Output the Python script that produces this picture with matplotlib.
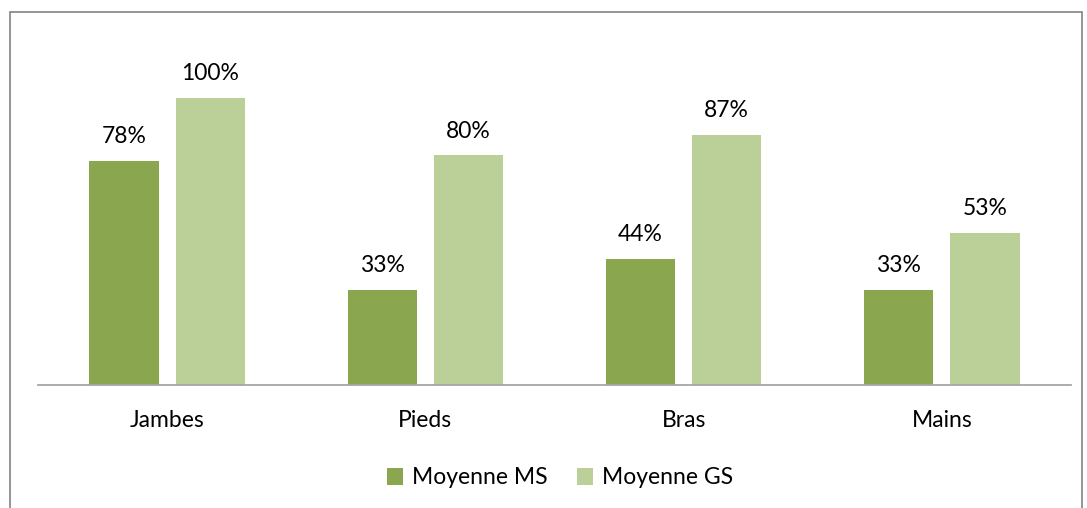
import numpy as np
import matplotlib
matplotlib.use("Agg")
import matplotlib.pyplot as plt
from matplotlib.patches import Rectangle

# data
categories = ['Jambes', 'Pieds', 'Bras', 'Mains']
moyenne_ms = [78, 33, 44, 33]
moyenne_gs = [100, 80, 87, 53]
series_names = ['Moyenne MS', 'Moyenne GS']

col_ms = '#8AA64F'
col_gs = '#BBCF98'

plt.rcParams['font.family'] = ['Lato', 'DejaVu Sans']

W, H = 1087, 508
fig = plt.figure(figsize=(W / 100, H / 100), dpi=100)

# outer frame of the chart
fig.patches.append(Rectangle((9.5 / W, -0.01), (1082 - 9.5) / W, 1 - 11.5 / H + 0.01,
                             transform=fig.transFigure, fill=False,
                             edgecolor='#8C8C8C', linewidth=1.3))

ax = fig.add_axes([38 / W, (H - 385) / H, (1071 - 38) / W, 344.4 / H])

x = np.arange(len(categories))
bw = 0.268
off = 0.167
b1 = ax.bar(x - off, moyenne_ms, bw, color=col_ms, label=series_names[0])
b2 = ax.bar(x + off, moyenne_gs, bw, color=col_gs, label=series_names[1])

for bars in (b1, b2):
    for r in bars:
        ax.annotate(f'{int(r.get_height())}%', (r.get_x() + r.get_width() / 2, r.get_height()),
                    xytext=(0, 10), textcoords='offset points', ha='center', va='bottom',
                    fontsize=16.5, color='#000000')

ax.set_xlim(-0.5, len(categories) - 0.5)
ax.set_ylim(0, 120)
ax.set_xticks(x)
ax.set_xticklabels(categories, fontsize=16.5)
ax.tick_params(axis='x', length=0, pad=18)
ax.set_yticks([])
for s in ['top', 'right', 'left']:
    ax.spines[s].set_visible(False)
ax.spines['bottom'].set_color('#A6A6A6')
ax.spines['bottom'].set_linewidth(1.3)

fig.legend(handles=[b1, b2], labels=series_names, loc='center',
           bbox_to_anchor=(560 / W, (H - 478) / H), ncol=2, frameon=False,
           fontsize=16.5, handlelength=0.7, handleheight=0.7, handletextpad=0.4,
           columnspacing=1.3)

fig.savefig('out.png', dpi=100)
